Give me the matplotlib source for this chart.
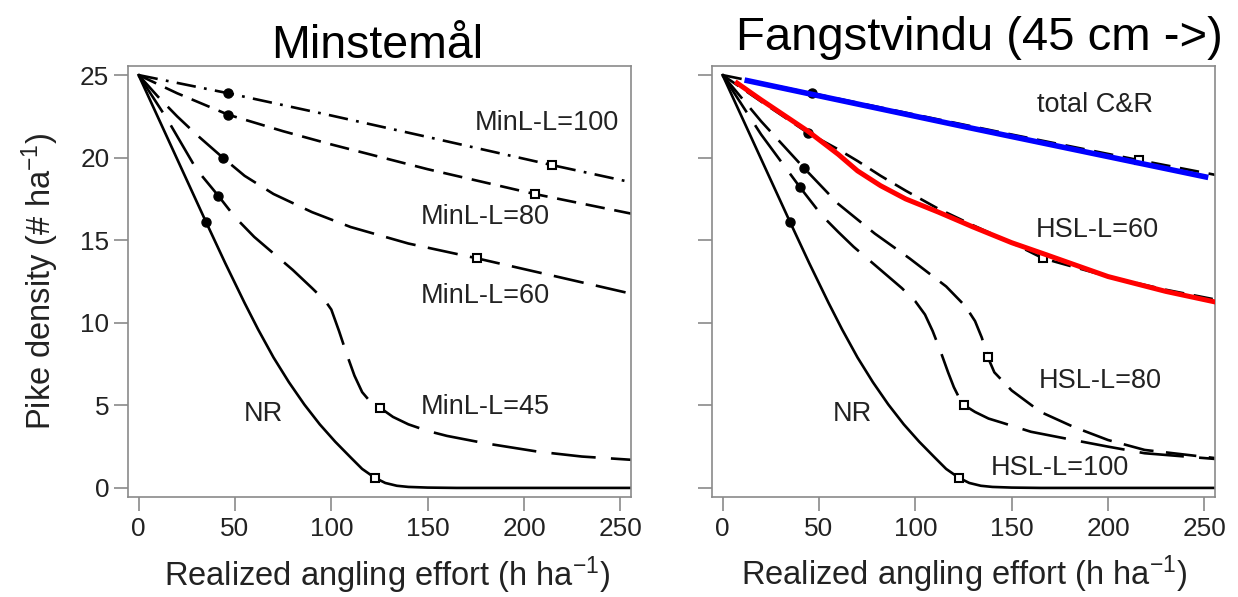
import matplotlib
matplotlib.use("Agg")
import matplotlib.pyplot as plt

plt.rcParams['font.family'] = ['Liberation Sans', 'DejaVu Sans']
plt.rcParams['mathtext.default'] = 'regular'
plt.rcParams['lines.scale_dashes'] = False

# ---- data (effort in h/ha, density in #/ha) ----
# shared "no regulation" curve
nr_x = [0, 35, 45, 55, 62, 70, 78, 86, 94, 102, 110, 116, 122.5, 128, 134, 140, 150, 165, 256]
nr_y = [25, 16.1, 13.6, 11.2, 9.6, 7.9, 6.4, 5.05, 3.85, 2.8, 1.85, 1.15, 0.62, 0.3, 0.13, 0.06, 0.02, 0, 0]

# left panel: minimum length limits
min45_x = [0, 15, 30, 41.3, 50, 60, 70, 80, 90, 97, 100, 104, 108, 112, 116, 120, 125.2, 132, 140, 150, 160, 180, 207, 230, 256]
min45_y = [25, 22.3, 19.3, 17.7, 16.4, 15.2, 14.2, 13.2, 12.1, 11.3, 10.8, 9.5, 8.1, 6.8, 5.8, 5.25, 4.86, 4.3, 3.85, 3.45, 3.15, 2.7, 2.2, 1.9, 1.7]
min60_x = [0, 10, 20, 30, 43.7, 55, 70, 90, 110, 140, 175.7, 215, 256]
min60_y = [25, 23.7, 22.5, 21.4, 20.0, 18.9, 17.8, 16.7, 15.8, 14.8, 13.9, 12.85, 11.75]
min80_x = [0, 20, 46.5, 75, 100, 150, 205.5, 256]
min80_y = [25, 23.9, 22.6, 21.6, 20.8, 19.3, 17.8, 16.6]
min100_x = [0, 46.5, 100, 150, 214.5, 256]
min100_y = [25, 23.9, 22.55, 21.25, 19.55, 18.5]

min_circ_x = [35, 41.3, 43.7, 46.5, 46.5]
min_circ_y = [16.1, 17.7, 20.0, 22.6, 23.9]
min_sq_x = [122.5, 125.2, 175.7, 205.5, 214.5]
min_sq_y = [0.62, 4.86, 13.9, 17.8, 19.55]

# right panel: harvest slot limits
hsl100_x = [0, 20, 40.2, 51.5, 60, 68, 76, 85, 93, 100, 105, 109, 113, 117, 120, 123, 125.5, 131, 138, 145, 160, 182, 200, 219, 256]
hsl100_y = [25, 21.4, 18.2, 16.5, 15.5, 14.6, 13.8, 12.9, 12.1, 11.3, 10.5, 9.5, 8.3, 7.0, 6.1, 5.4, 5.0, 4.6, 4.2, 3.95, 3.4, 2.9, 2.5, 2.1, 1.75]
hsl80_x = [0, 20, 42, 60, 79, 97, 116, 126, 131, 134.5, 137.5, 141, 150, 165, 182, 200, 219, 256]
hsl80_y = [25, 22.2, 19.4, 17.2, 15.4, 13.9, 12.2, 11.0, 10.1, 9.1, 7.95, 7.0, 5.9, 4.6, 3.7, 2.9, 2.3, 1.8]
hsl60_x = [0, 20, 44.3, 60, 70, 82, 95, 112, 130, 150, 166.3, 200, 230, 256]
hsl60_y = [25, 23.4, 21.5, 20.5, 19.8, 18.9, 18.0, 16.9, 15.9, 14.85, 13.9, 12.8, 12.0, 11.4]
total_x = [0, 46.3, 100, 150, 216, 256]
total_y = [25, 23.9, 22.6, 21.4, 19.85, 18.95]

hsl_circ_x = [35, 40.2, 42, 44.3, 46.3]
hsl_circ_y = [16.1, 18.2, 19.4, 21.5, 23.9]
hsl_sq_x = [122.5, 125.5, 137.5, 166.3, 216]
hsl_sq_y = [0.62, 5.0, 7.95, 13.9, 19.85]

# coloured lines drawn over the figure
red_x = [6.5, 20, 44.3, 60, 70, 82, 95, 112, 130, 150, 166, 200, 230, 256]
red_y = [24.6, 23.5, 21.6, 20.2, 19.2, 18.3, 17.5, 16.7, 15.8, 14.85, 14.2, 12.8, 11.9, 11.25]
blue_x = [11.4, 126.5, 252]
blue_y = [24.7, 21.85, 18.8]

xticks = [0, 50, 100, 150, 200, 250]
yticks = [0, 5, 10, 15, 20, 25]

LONG = (0, (32, 11))
MEDIUM = (0, (22, 9))
SHORT = (0, (14, 7))
DASHDOT = (0, (14, 6, 2, 6))
LW = 1.9
TXT = '#222222'
GREY = '#8a8a8a'


def style_axes(ax, show_ylabels):
    ax.set_xlim(-5.5, 255.5)
    ax.set_ylim(-0.55, 25.55)
    ax.set_xticks(xticks)
    ax.set_yticks(yticks)
    for s in ax.spines.values():
        s.set_color(GREY)
        s.set_linewidth(1.2)
    ax.tick_params(direction='out', length=10, width=1.2, color=GREY,
                   labelsize=18.8, labelcolor=TXT)
    ax.tick_params(axis='x', pad=4.5)
    ax.tick_params(axis='y', pad=3.5)
    if not show_ylabels:
        ax.set_yticklabels([])


def markers(ax, cx, cy, sx, sy):
    ax.plot(cx, cy, 'o', color='black', ms=6.5, zorder=3)
    ax.plot(sx, sy, 's', color='black', mfc='white', ms=5.5, mew=1.5, zorder=3)


fig = plt.figure(figsize=(12.38, 5.97), dpi=100)
ax1 = fig.add_axes([128 / 1238, 100 / 597, 503 / 1238, 431 / 597])
ax2 = fig.add_axes([712 / 1238, 100 / 597, 503 / 1238, 431 / 597])

# left panel
ax1.plot(nr_x, nr_y, color='black', lw=LW)
ax1.plot(min45_x, min45_y, color='black', lw=LW, ls=LONG)
ax1.plot(min60_x, min60_y, color='black', lw=LW, ls=MEDIUM)
ax1.plot(min80_x, min80_y, color='black', lw=LW, ls=SHORT)
ax1.plot(min100_x, min100_y, color='black', lw=LW, ls=DASHDOT)
markers(ax1, min_circ_x, min_circ_y, min_sq_x, min_sq_y)
lab = dict(fontsize=19.5, color=TXT, ha='center', va='center')
ax1.text(211.7, 22.1, 'MinL-L=100', **lab)
ax1.text(180, 16.4, 'MinL-L=80', **lab)
ax1.text(180, 11.6, 'MinL-L=60', **lab)
ax1.text(180, 4.9, 'MinL-L=45', **lab)
ax1.text(64.5, 4.5, 'NR', **lab)
style_axes(ax1, True)

# right panel
ax2.plot(nr_x, nr_y, color='black', lw=LW)
ax2.plot(hsl100_x, hsl100_y, color='black', lw=LW, ls=LONG)
ax2.plot(hsl80_x, hsl80_y, color='black', lw=LW, ls=MEDIUM)
ax2.plot(hsl60_x, hsl60_y, color='black', lw=LW, ls=SHORT)
ax2.plot(total_x, total_y, color='black', lw=LW, ls=SHORT)
markers(ax2, hsl_circ_x, hsl_circ_y, hsl_sq_x, hsl_sq_y)
ax2.plot(red_x, red_y, color='#ff0000', lw=3.6, solid_capstyle='butt', zorder=4)
ax2.plot(blue_x, blue_y, color='#0000ff', lw=4.0, solid_capstyle='butt', zorder=4)
ax2.text(193, 23.2, 'total C&R', **lab)
ax2.text(194.3, 15.6, 'HSL-L=60', **lab)
ax2.text(195.7, 6.5, 'HSL-L=80', **lab)
ax2.text(175, 1.2, 'HSL-L=100', **lab)
ax2.text(67.4, 4.5, 'NR', **lab)
style_axes(ax2, False)

# axis labels and titles
xlab = 'Realized angling effort (h ha$^{-1}$)'
fig.text(387 / 1238, 1 - 586 / 597, xlab, fontsize=23.5, color=TXT, ha='center', va='baseline')
fig.text(964 / 1238, 1 - 585 / 597, xlab, fontsize=23.5, color=TXT, ha='center', va='baseline')
fig.text(40 / 1238, 1 - 281 / 597, 'Pike density (# ha$^{-1}$)', fontsize=23.5, color=TXT,
         rotation=90, ha='center', va='center')
fig.text(377 / 1238, 1 - 58 / 597, 'Minstemål', fontsize=33.5, color='black', ha='center', va='baseline')
fig.text(979 / 1238, 1 - 50 / 597, 'Fangstvindu (45 cm ->)', fontsize=34, color='black',
         ha='center', va='baseline')

fig.savefig('out.png', dpi=100)
